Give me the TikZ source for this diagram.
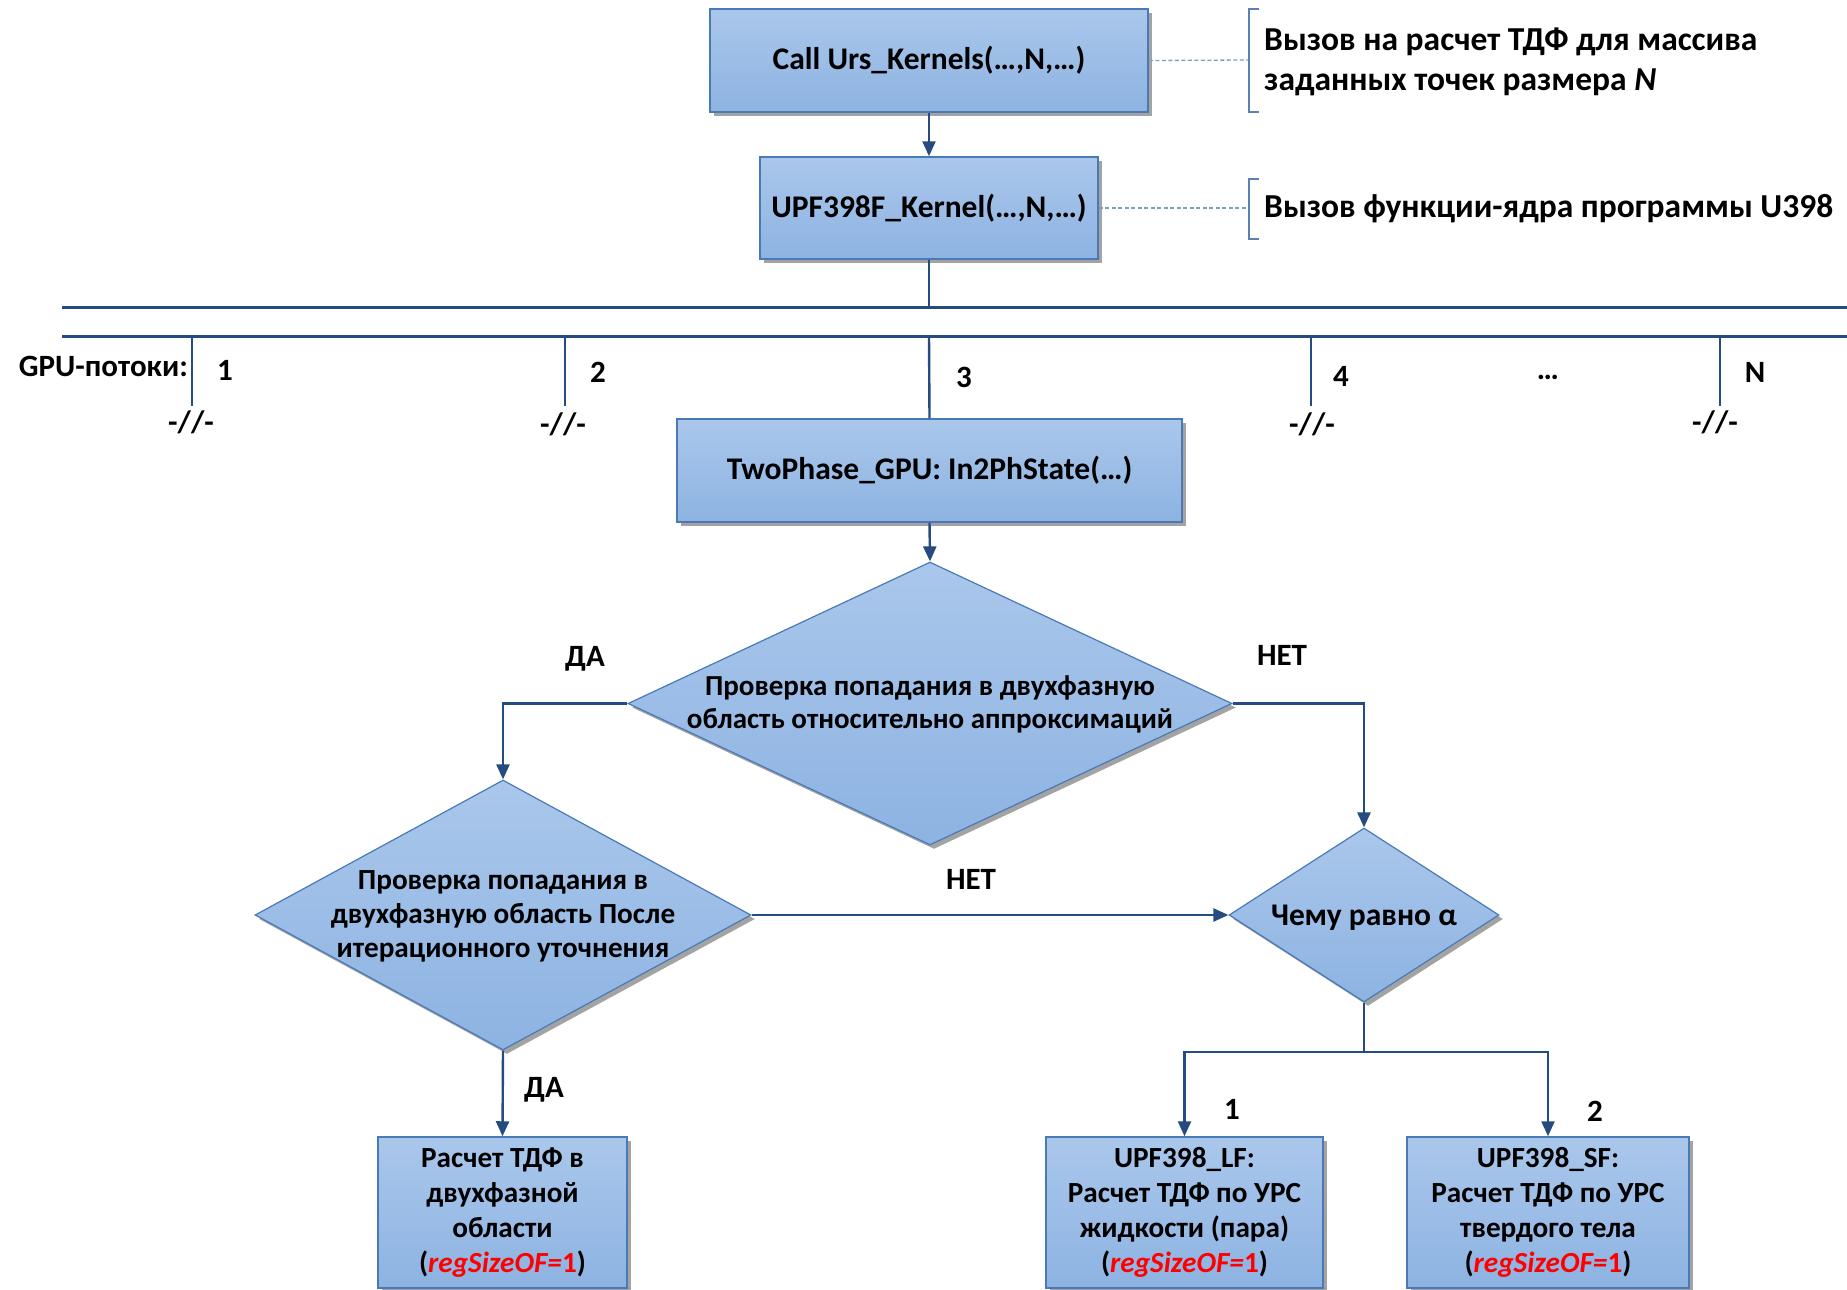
\documentclass[tikz,border=0pt]{standalone}
\usepackage{fontspec}
\setmainfont{Carlito}
\usetikzlibrary{shapes.geometric,shadows,arrows.meta,calc}

\definecolor{lineblue}{HTML}{264B80}
\definecolor{edgeblue}{HTML}{4A7AB6}
\definecolor{filltop}{HTML}{AAC7EB}
\definecolor{fillbot}{HTML}{8DB3E2}
\definecolor{dashblue}{HTML}{7F9DC4}
\definecolor{bracketblue}{HTML}{5B80B2}
\definecolor{shadowgray}{HTML}{A3A3A3}

\tikzset{
  txt/.style={font=\fontsize{31}{35}\selectfont\bfseries, inner sep=0pt, align=center, text=black},
  notetxt/.style={font=\fontsize{33.5}{38}\selectfont\bfseries, inner sep=0pt, anchor=west, align=left, text=black},
  blockbox/.style={rectangle, draw=edgeblue, line width=1.5pt,
    top color=filltop, bottom color=fillbot,
    general shadow={fill=shadowgray, shadow xshift=4pt, shadow yshift=-4pt},
    inner sep=0pt, align=center, font=\fontsize{31.5}{35}\selectfont\bfseries},
  resultbox/.style={blockbox, font=\fontsize{29.2}{35}\selectfont\bfseries},
  decision/.style={diamond, draw=edgeblue, line width=1.2pt,
    top color=filltop, bottom color=fillbot,
    general shadow={fill=shadowgray, shadow xshift=4pt, shadow yshift=-4pt},
    inner sep=0pt},
  flow/.style={draw=lineblue, line width=2.4pt, -{Triangle[length=15pt,width=13pt]}},
  link/.style={draw=lineblue, line width=2.4pt},
  busline/.style={draw=lineblue, line width=3pt},
  note/.style={draw=dashblue, line width=1.3pt, dash pattern=on 4pt off 2.5pt},
  bracketline/.style={draw=bracketblue, line width=1.5pt}
}

\newcommand{\regsize}{(\textcolor{red}{\textit{regSizeOF=}1})}

\begin{document}
\begin{tikzpicture}[x=1pt, y=-1pt]
  \useasboundingbox (0,0) rectangle (1847,1290);
  \clip (0,0) rectangle (1847,1290);

  % top calls
  \node[blockbox, minimum width=438, minimum height=103] (call) at (929,60.5) {Call Urs\_Kernels(…,N,…)};
  \node[blockbox, minimum width=338, minimum height=102] (kern) at (929,208) {UPF398F\_Kernel(…,N,…)};
  \draw[flow] (call.south) -- (kern.north);

  % annotations with brackets
  \coordinate (b1) at (1249,60);
  \coordinate (b2) at (1249,208);
  \draw[note] (call.east) -- (b1);
  \draw[note] (kern.east) -- (b2);
  \draw[bracketline] (1259,9) -- (1249,9) -- (1249,112) -- (1259,112);
  \draw[bracketline] (1259,179) -- (1249,179) -- (1249,239) -- (1259,239);
  \node[notetxt] (n1a) at (1264,42) {Вызов на расчет ТДФ для массива};
  \node[notetxt] (n1b) at (1264,82) {заданных точек размера \textit{N}};
  \node[notetxt] (n2) at (1264,209) {Вызов функции-ядра программы U398};

  % GPU thread bus
  \coordinate (busL1) at (62,307);
  \coordinate (busR1) at (1847,307);
  \coordinate (busL2) at (62,336);
  \coordinate (busR2) at (1847,336);
  \coordinate (busIn) at (929,307);
  \draw[link] (kern.south) -- (busIn);
  \draw[busline] (busL1) -- (busR1);
  \draw[busline] (busL2) -- (busR2);

  \foreach \i/\x in {1/192, 2/565, 4/1311, 5/1720}{
    \coordinate (top\i) at (\x,336);
    \coordinate (end\i) at (\x,406);
    \draw[link] (top\i) -- (end\i);
  }
  \node[txt, anchor=east] (gpu) at (188,366) {GPU-потоки:};
  \node[txt] (l1) at (225,370) {1};
  \node[txt] (l2) at (598,372) {2};
  \node[txt] (l3) at (964,377) {3};
  \node[txt] (l4) at (1341,376) {4};
  \node[txt] (ldots) at (1548,377) {…};
  \node[txt] (lN) at (1755,372) {N};
  \node[txt] (s1) at (191,422) {-//-};
  \node[txt] (s2) at (563,424) {-//-};
  \node[txt] (s4) at (1312,424) {-//-};
  \node[txt] (sN) at (1715,422) {-//-};

  % thread 3 in detail
  \node[blockbox, minimum width=505, minimum height=103] (twop) at (929.5,470.5) {TwoPhase\_GPU: In2PhState(…)};
  \coordinate (top3) at (929,336);
  \draw[link] (top3) -- (twop.north);

  \node[decision, minimum width=604, minimum height=283] (d1) at (930,703.5) {};
  \node[txt, font=\fontsize{29}{33}\selectfont\bfseries] (d1t) at (930,704) {Проверка попадания в двухфазную\\область относительно аппроксимаций};
  \draw[flow] (twop.south) -- (d1.north);

  \node[decision, minimum width=496, minimum height=270] (d2) at (503,915) {};
  \node[txt, font=\fontsize{29.2}{34}\selectfont\bfseries] (d2t) at (503,916) {Проверка попадания в\\двухфазную область После\\итерационного уточнения};

  \node[decision, minimum width=270, minimum height=174] (d3) at (1364,915) {};
  \node[txt, font=\fontsize{31.5}{35}\selectfont\bfseries] (d3t) at (1364,917.5) {Чему равно α};

  \draw[flow] (d1.west) -| (d2.north);
  \draw[flow] (d1.east) -| (d3.north);
  \draw[flow] (d2.east) -- (d3.west);

  \node[txt] (yes1) at (585,659) {ДА};
  \node[txt] (no1) at (1282,655) {НЕТ};
  \node[txt] (no2) at (971,879) {НЕТ};

  % results
  \node[resultbox, minimum width=249, minimum height=151] (res2ph) at (502.5,1212.5)
    {\raisebox{-2pt}{\parbox{249pt}{\centering Расчет ТДФ в\\двухфазной\\области\\\regsize}}};
  \node[resultbox, minimum width=277, minimum height=151] (resLF) at (1184.5,1212.5)
    {\raisebox{-2pt}{\parbox{277pt}{\centering UPF398\_LF:\\Расчет ТДФ по УРС\\жидкости (пара)\\\regsize}}};
  \node[resultbox, minimum width=282, minimum height=151] (resSF) at (1548,1212.5)
    {\raisebox{-2pt}{\parbox{282pt}{\centering UPF398\_SF:\\Расчет ТДФ по УРС\\твердого тела\\\regsize}}};

  \draw[flow] (d2.south) -- (res2ph.north);
  \node[txt] (yes2) at (544,1090) {ДА};

  \coordinate (split) at (1364,1052);
  \draw[link] (d3.south) -- (split);
  \draw[flow] (split) -| (resLF.north);
  \draw[flow] (split) -| (resSF.north);
  \node[txt] (c1) at (1232,1109) {1};
  \node[txt] (c2) at (1595,1111) {2};
\end{tikzpicture}
\end{document}
